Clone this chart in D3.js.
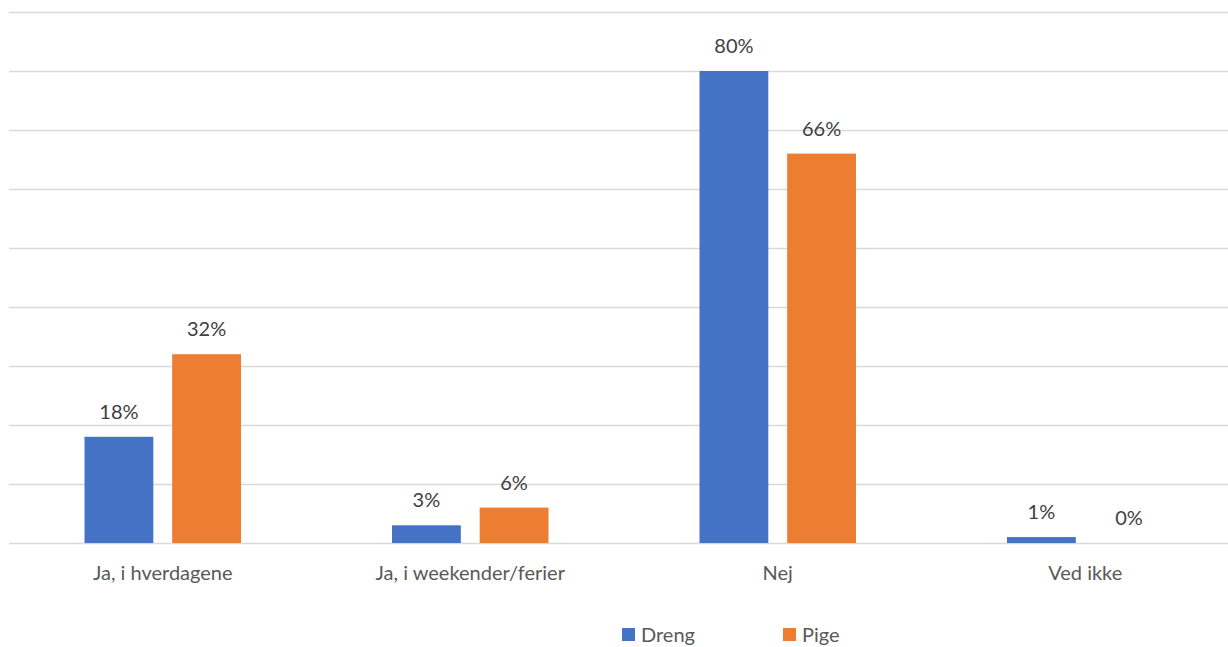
<!DOCTYPE html>
<html>
<head>
<meta charset="utf-8">
<script src="https://cdn.jsdelivr.net/npm/d3@7"></script>
<style>
  body { margin: 0; background: #fff; }
  text { font-family: Lato, "Open Sans", sans-serif; }
</style>
</head>
<body>
<div id="chart"></div>
<script>
// chart data
var categories = ["Ja, i hverdagene", "Ja, i weekender/ferier", "Nej", "Ved ikke"];
var seriesNames = ["Dreng", "Pige"];
var dreng = [18, 3, 80, 1];
var pige = [32, 6, 66, 0];
var gridTicks = [0, 10, 20, 30, 40, 50, 60, 70, 80, 90];
var colors = ["#4472C4", "#ED7D31"];

var width = 1228, height = 647;
var fontSize = "20px";
var svg = d3.select("#chart").append("svg").attr("width", width).attr("height", height);

var x = d3.scaleBand().domain(categories).range([9, 1239]).paddingInner(0).paddingOuter(0);
var x1 = d3.scaleBand().domain(seriesNames).range([75.5, 307.5 - 75.5]).paddingInner(0.215);
var y = d3.scaleLinear().domain([0, 90]).range([543, 12]);

// gridlines
svg.append("g").selectAll("line").data(gridTicks).enter().append("line")
  .attr("x1", 9).attr("x2", 1239)
  .attr("y1", function(d) { return Math.round(y(d)) + 0.5; })
  .attr("y2", function(d) { return Math.round(y(d)) + 0.5; })
  .attr("stroke", "#d9d9d9").attr("stroke-width", 1.3);

var data = [];
categories.forEach(function(c, i) {
  data.push({ cat: c, s: "Dreng", v: dreng[i] });
  data.push({ cat: c, s: "Pige", v: pige[i] });
});

svg.append("g").selectAll("rect").data(data).enter().append("rect")
  .attr("x", function(d) { return x(d.cat) + x1(d.s); })
  .attr("width", x1.bandwidth())
  .attr("y", function(d) { return y(d.v); })
  .attr("height", function(d) { return y(0) - y(d.v); })
  .attr("fill", function(d) { return colors[seriesNames.indexOf(d.s)]; });

// value labels
svg.append("g").selectAll("text").data(data).enter().append("text")
  .attr("x", function(d) { return x(d.cat) + x1(d.s) + x1.bandwidth() / 2; })
  .attr("y", function(d) { return y(d.v) - 18; })
  .attr("text-anchor", "middle")
  .attr("font-size", fontSize)
  .attr("fill", "#404040")
  .text(function(d) { return d.v + "%"; });

// category axis
svg.append("g").selectAll("text").data(categories).enter().append("text")
  .attr("x", function(d) { return x(d) + x.bandwidth() / 2; })
  .attr("y", 580)
  .attr("text-anchor", "middle")
  .attr("font-size", fontSize)
  .attr("fill", "#595959")
  .text(function(d) { return d; });

// legend
var legendX = [622, 783];
var legend = svg.append("g").selectAll("g").data(seriesNames).enter().append("g")
  .attr("transform", function(d, i) { return "translate(" + legendX[i] + ",628)"; });
legend.append("rect").attr("width", 13).attr("height", 13)
  .attr("fill", function(d, i) { return colors[i]; });
legend.append("text").attr("x", 19).attr("y", 14)
  .attr("font-size", fontSize).attr("fill", "#595959")
  .text(function(d) { return d; });
</script>
</body>
</html>
